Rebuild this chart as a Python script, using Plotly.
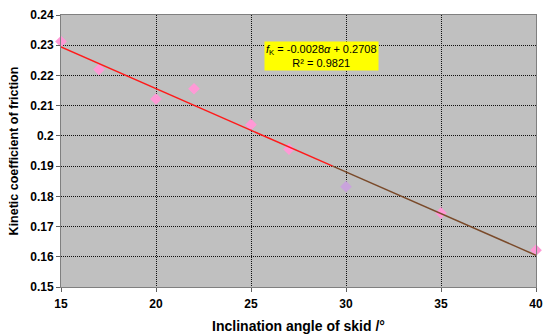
import numpy as np
import plotly.graph_objects as go

# Data
angles = [15, 17, 20, 22, 25, 27, 30, 35, 40]
friction = [0.2312, 0.2220, 0.2122, 0.2156, 0.2037, 0.1956, 0.1832, 0.1745, 0.1622]
x_ticks = [15, 20, 25, 30, 35, 40]
y_ticks = [0.15, 0.16, 0.17, 0.18, 0.19, 0.20, 0.21, 0.22, 0.23, 0.24]
y_tick_text = ["0.15", "0.16", "0.17", "0.18", "0.19", "0.2", "0.21", "0.22", "0.23", "0.24"]
equation_text = "<i>f</i><sub>K</sub> = -0.0028<i>α</i> + 0.2708<br>R² = 0.9821"

# Linear trendline fitted to the data (as in the original spreadsheet chart)
slope, intercept = np.polyfit(angles, friction, 1)
split_x = 29.3  # where the trendline colour changes in the reference
seg1_x = [angles[0], split_x]
seg2_x = [split_x, angles[-1]]
seg1_y = [slope * v + intercept for v in seg1_x]
seg2_y = [slope * v + intercept for v in seg2_x]

marker_colors = ["#FF99D6"] * len(angles)
marker_colors[6] = "#C9A3DC"

FONT = "Liberation Sans, Arial, sans-serif"

fig = go.Figure()
fig.add_trace(go.Scatter(
    x=angles, y=friction, mode="markers", cliponaxis=False,
    marker=dict(symbol="diamond", size=9, color=marker_colors, line=dict(width=0)),
    showlegend=False, hoverinfo="skip"))
fig.add_trace(go.Scatter(
    x=seg1_x, y=seg1_y, mode="lines",
    line=dict(color="#FF1A1A", width=1.5), showlegend=False, hoverinfo="skip"))
fig.add_trace(go.Scatter(
    x=seg2_x, y=seg2_y, mode="lines",
    line=dict(color="#7A4A2A", width=1.5), showlegend=False, hoverinfo="skip"))

fig.add_annotation(
    x=28.69, y=0.2263, xref="x", yref="y", yanchor="middle", xanchor="center",
    text=equation_text,
    showarrow=False, bgcolor="#FFFF00", borderpad=1, align="center",
    font=dict(family=FONT, size=11, color="#000000"))

fig.update_layout(
    width=550, height=335,
    margin=dict(l=61, r=14, t=15, b=48, autoexpand=False),
    paper_bgcolor="white", plot_bgcolor="#C0C0C0",
    font=dict(family=FONT, color="#000000"),
)
fig.update_xaxes(
    range=[15, 40], tickvals=x_ticks, ticks="outside", ticklen=4, tickcolor="#606060",
    ticklabelstandoff=2, automargin=False,
    showgrid=True, gridcolor="#101010", griddash="1px,1px", gridwidth=1,
    showline=True, linecolor="#808080", linewidth=1, mirror=True, zeroline=False,
    tickfont=dict(family=FONT, size=12, weight="bold", color="#000000"),
    title=dict(text="Inclination angle of skid /°", standoff=10,
               font=dict(family=FONT, size=14, weight="bold", color="#000000")),
)
fig.update_yaxes(
    range=[0.15, 0.24], tickvals=y_ticks, ticktext=y_tick_text, ticks="outside",
    ticklen=4, tickcolor="#606060", ticklabelstandoff=0, automargin=False,
    showgrid=True, gridcolor="#101010", griddash="1px,1px", gridwidth=1,
    showline=True, linecolor="#808080", linewidth=1, mirror=True, zeroline=False,
    tickfont=dict(family=FONT, size=12, weight="bold", color="#000000"),
    title=dict(text="Kinetic coefficient of friction", standoff=8,
               font=dict(family=FONT, size=12.5, weight="bold", color="#000000")),
)

fig.write_html("out.html", config={"displayModeBar": False},
               post_script="document.body.style.margin='0';")
